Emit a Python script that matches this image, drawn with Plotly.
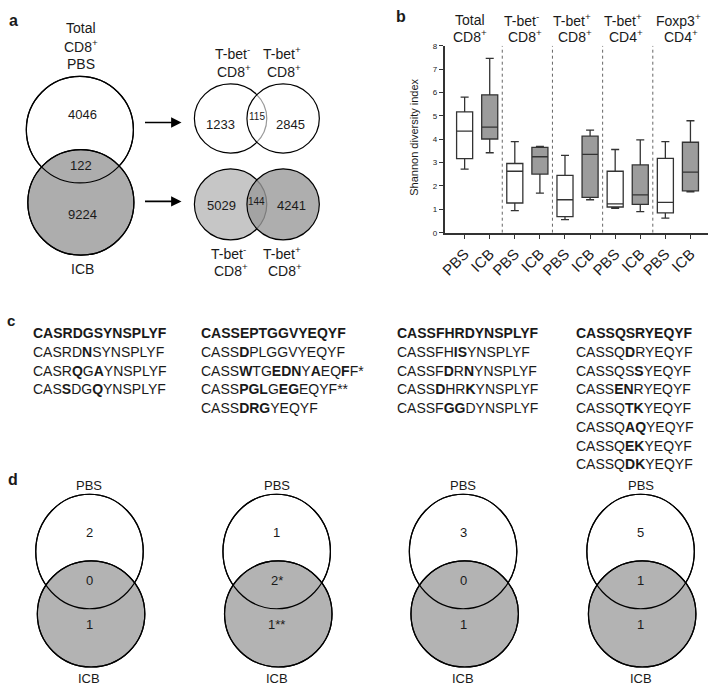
import plotly.graph_objects as go

W, H = 709, 693
FONT = "Liberation Sans, Arial, sans-serif"
INK = "#1a1a1a"

# ---------------- data ----------------
# panel a : clonotype overlaps
a_top_labels = ["Total", "CD8<sup>+</sup>", "PBS"]
a_total = ["4046", "122", "9224"]            # PBS only, shared, ICB only
a_pbs_split = ["1233", "115", "2845"]        # T-bet- only, shared, T-bet+ only
a_icb_split = ["5029", "144", "4241"]
a_split_top = ["T-bet<sup>-</sup>", "T-bet<sup>+</sup>"]
a_split_bot = ["CD8<sup>+</sup>", "CD8<sup>+</sup>"]

# panel b : Shannon diversity boxes
b_title1 = ["Total", "T-bet<sup>-</sup>", "T-bet<sup>+</sup>", "T-bet<sup>+</sup>", "Foxp3<sup>+</sup>"]
b_title2 = ["CD8<sup>+</sup>", "CD8<sup>+</sup>", "CD8<sup>+</sup>", "CD4<sup>+</sup>", "CD4<sup>+</sup>"]
b_treat = ["PBS", "ICB"]
pbs_low = [2.72, 0.94, 0.56, 1.04, 0.62]
pbs_q1 = [3.17, 1.27, 0.69, 1.10, 0.85]
pbs_med = [4.35, 2.63, 1.41, 1.23, 1.30]
pbs_q3 = [5.17, 2.96, 2.45, 2.63, 3.18]
pbs_high = [5.80, 3.90, 3.31, 3.56, 3.90]
icb_low = [3.42, 1.69, 1.41, 0.90, 1.75]
icb_q1 = [4.01, 2.51, 1.51, 1.21, 1.79]
icb_med = [4.52, 3.25, 3.35, 1.62, 2.59]
icb_q3 = [5.90, 3.65, 4.13, 2.90, 3.87]
icb_high = [7.46, 3.69, 4.39, 3.97, 4.79]
b_yticks = [0, 1, 2, 3, 4, 5, 6, 7, 8]

# panel c : CDR3 sequences
c_col1 = ["<b>CASRDGSYNSPLYF</b>", "CASRD<b>N</b>SYNSPLYF",
          "CASR<b>Q</b>G<b>A</b>YNSPLYF", "CAS<b>S</b>DG<b>Q</b>YNSPLYF"]
c_col2 = ["<b>CASSEPTGGVYEQYF</b>", "CASS<b>D</b>PLGGVYEQYF",
          "CASS<b>W</b>TG<b>EDN</b>Y<b>A</b>EQ<b>F</b>F*",
          "CASS<b>PGL</b>G<b>EG</b>EQYF**", "CASS<b>DRG</b>YEQYF"]
c_col3 = ["<b>CASSFHRDYNSPLYF</b>", "CASSFH<b>IS</b>YNSPLYF",
          "CASSF<b>D</b>R<b>N</b>YNSPLYF", "CASS<b>D</b>HR<b>K</b>YNSPLYF",
          "CASSF<b>GG</b>DYNSPLYF"]
c_col4 = ["<b>CASSQSRYEQYF</b>", "CASSQ<b>D</b>RYEQYF", "CASSQS<b>S</b>YEQYF",
          "CASS<b>EN</b>RYEQYF", "CASSQ<b>TK</b>YEQYF", "CASSQ<b>AQ</b>YEQYF",
          "CASSQ<b>EK</b>YEQYF", "CASSQ<b>DK</b>YEQYF"]
c_cols = [c_col1, c_col2, c_col3, c_col4]

# panel d : per-motif overlaps
d_pbs_only = ["2", "1", "3", "5"]
d_shared = ["0", "2*", "0", "1"]
d_icb_only = ["1", "1**", "1", "1"]


# ---------------- helpers (pixel -> paper) ----------------
def X(p):
    return p / W


def Y(p):
    return 1 - p / H


shapes = []
annotations = []


def ell(cx, cy, rx, ry, fill="rgba(0,0,0,0)", lc="black", lw=1.2, opacity=1.0):
    shapes.append(dict(type="circle", xref="paper", yref="paper",
                       x0=X(cx - rx), x1=X(cx + rx), y0=Y(cy + ry), y1=Y(cy - ry),
                       fillcolor=fill, opacity=opacity,
                       line=dict(color=lc, width=lw), layer="above"))


def txt(x, y, s, size=13, anchor="center", angle=0):
    annotations.append(dict(xref="paper", yref="paper", x=X(x), y=Y(y), text=s,
                            showarrow=False, xanchor=anchor, yanchor="middle",
                            textangle=angle,
                            font=dict(family=FONT, size=size, color=INK)))


def arrow(x0, x1, y):
    annotations.append(dict(xref="paper", yref="paper", x=X(x1), y=Y(y),
                            ax=x0 - x1, ay=0, axref="pixel", ayref="pixel",
                            text="", showarrow=True, arrowhead=2, arrowsize=1.3,
                            arrowwidth=1.6, arrowcolor="black"))


# ---------------- panel a ----------------
txt(8, 17, "<b>a</b>", 16)
for i, s in enumerate(a_top_labels):
    txt(76, 24 + 18.5 * i, s, 14)
ell(74.5, 127.3, 54, 54, fill="white")
ell(75.5, 201, 53.5, 53.5, fill="#adadad")
ell(74.5, 127.3, 54, 54)
ell(75.5, 201, 53.5, 53.5)
txt(76.7, 112, a_total[0], 13)
txt(75.5, 163.5, a_total[1], 13)
txt(76.7, 213.5, a_total[2], 13)
txt(76.7, 268, "ICB", 14)
arrow(139, 177, 120)
arrow(139, 177, 200)

# top-right split venn (PBS)
ell(226.5, 116, 36.5, 35, fill="white")
ell(279.5, 116, 36.5, 35, fill="white", lw=0, opacity=0.6)
ell(279.5, 116, 36.5, 35)
txt(216, 122, a_pbs_split[0], 13)
txt(253, 114, a_pbs_split[1], 10)
txt(287, 122, a_pbs_split[2], 13)
# bottom-right split venn (ICB)
ell(226.5, 203, 36.5, 36, fill="#c6c6c6")
ell(279.5, 203, 36.5, 36, fill="#9a9a9a", lw=0, opacity=0.8)
ell(279.5, 203, 36.5, 36)
txt(217, 204, a_icb_split[0], 13)
txt(253, 200, a_icb_split[1], 10)
txt(287.5, 204, a_icb_split[2], 13)
for k, (cx_t, cx_b) in enumerate([(227, 224), (277.5, 278.5)]):
    txt(cx_t + 1, 50, a_split_top[k], 14)
    txt(cx_t + 3, 67.5, a_split_bot[k], 14)
    txt(cx_b, 252, a_split_top[k], 14)
    txt(cx_b + 3, 270, a_split_bot[k], 14)

# ---------------- panel b ----------------
txt(398, 13, "<b>b</b>", 16)
pbs_x = [2 * g for g in range(len(b_title1))]
icb_x = [2 * g + 1 for g in range(len(b_title1))]
tickvals = sorted(pbs_x + icb_x)
ticktext = [b_treat[v % 2] for v in tickvals]

fig = go.Figure()
fig.add_trace(go.Box(x=pbs_x, q1=pbs_q1, median=pbs_med, q3=pbs_q3,
                     lowerfence=pbs_low, upperfence=pbs_high, name="PBS",
                     fillcolor="white", line=dict(color="#333333", width=1.3),
                     width=0.64, whiskerwidth=0.5, boxpoints=False, showlegend=False,
                     hoverinfo="skip"))
fig.add_trace(go.Box(x=icb_x, q1=icb_q1, median=icb_med, q3=icb_q3,
                     lowerfence=icb_low, upperfence=icb_high, name="ICB",
                     fillcolor="#9c9c9c", line=dict(color="#333333", width=1.3),
                     width=0.64, whiskerwidth=0.5, boxpoints=False, showlegend=False,
                     hoverinfo="skip"))

for g in range(len(b_title1) - 1):
    shapes.append(dict(type="line", xref="x", yref="y", x0=2 * g + 1.5, x1=2 * g + 1.5,
                       y0=b_yticks[0], y1=b_yticks[-1],
                       line=dict(color="#666666", width=1, dash="dot"), layer="above"))

title_px = [468, 520, 571, 622, 678]
for g in range(len(b_title1)):
    txt(title_px[g], 16, b_title1[g], 14)
    txt(title_px[g] + (3 if g else 0), 32, b_title2[g], 14)
txt(412, 135, "Shannon diversity index", 11, angle=-90)

# ---------------- panel c ----------------
txt(5, 321, "<b>c</b>", 15)
col_px = [25, 195, 392, 573]
for ci, col in enumerate(c_cols):
    for ri, s in enumerate(col):
        txt(col_px[ci], 333.5 + 19 * ri, s, 14, anchor="left")

# ---------------- panel d ----------------
txt(7, 482, "<b>d</b>", 16)
d_cx = [84.2, 273, 461, 640]
for k in range(len(d_pbs_only)):
    cx = d_cx[k]
    ell(cx, 554.7, 54.2, 58, fill="white")
    ell(cx + 1.6, 618, 54.2, 53.7, fill="#b3b3b3")
    ell(cx, 554.7, 54.2, 58)
    ell(cx + 1.6, 618, 54.2, 53.7)
    txt(cx, 488, "PBS", 13)
    txt(cx, 535, d_pbs_only[k], 13)
    txt(cx, 584, d_shared[k], 13)
    txt(cx, 629, d_icb_only[k], 13)
    txt(cx, 683, "ICB", 13)

fig.update_layout(
    width=W, height=H, margin=dict(l=0, r=0, t=0, b=0),
    paper_bgcolor="white", plot_bgcolor="white",
    shapes=shapes, annotations=annotations, showlegend=False,
    xaxis=dict(domain=[X(442.3), X(708)], anchor="y", range=[-0.8, 9.7],
               tickmode="array", tickvals=tickvals, ticktext=ticktext, tickangle=-45,
               ticks="outside", ticklen=5, tickwidth=1.3, tickcolor="#333333",
               showline=True, linecolor="#333333", linewidth=1.5,
               showgrid=False, zeroline=False,
               tickfont=dict(family=FONT, size=15, color=INK)),
    yaxis=dict(domain=[Y(231.7), Y(42.3)], anchor="x", range=[0, 8],
               tickmode="array", tickvals=b_yticks,
               ticks="outside", ticklen=4, tickwidth=1.3, tickcolor="#333333",
               showline=True, linecolor="#333333", linewidth=1.5,
               showgrid=False, zeroline=False,
               tickfont=dict(family=FONT, size=8, color=INK)),
)

fig.write_html("out.html", config={"displayModeBar": False},
               post_script="document.body.style.margin='0';"
                           "document.body.style.overflow='hidden';")
